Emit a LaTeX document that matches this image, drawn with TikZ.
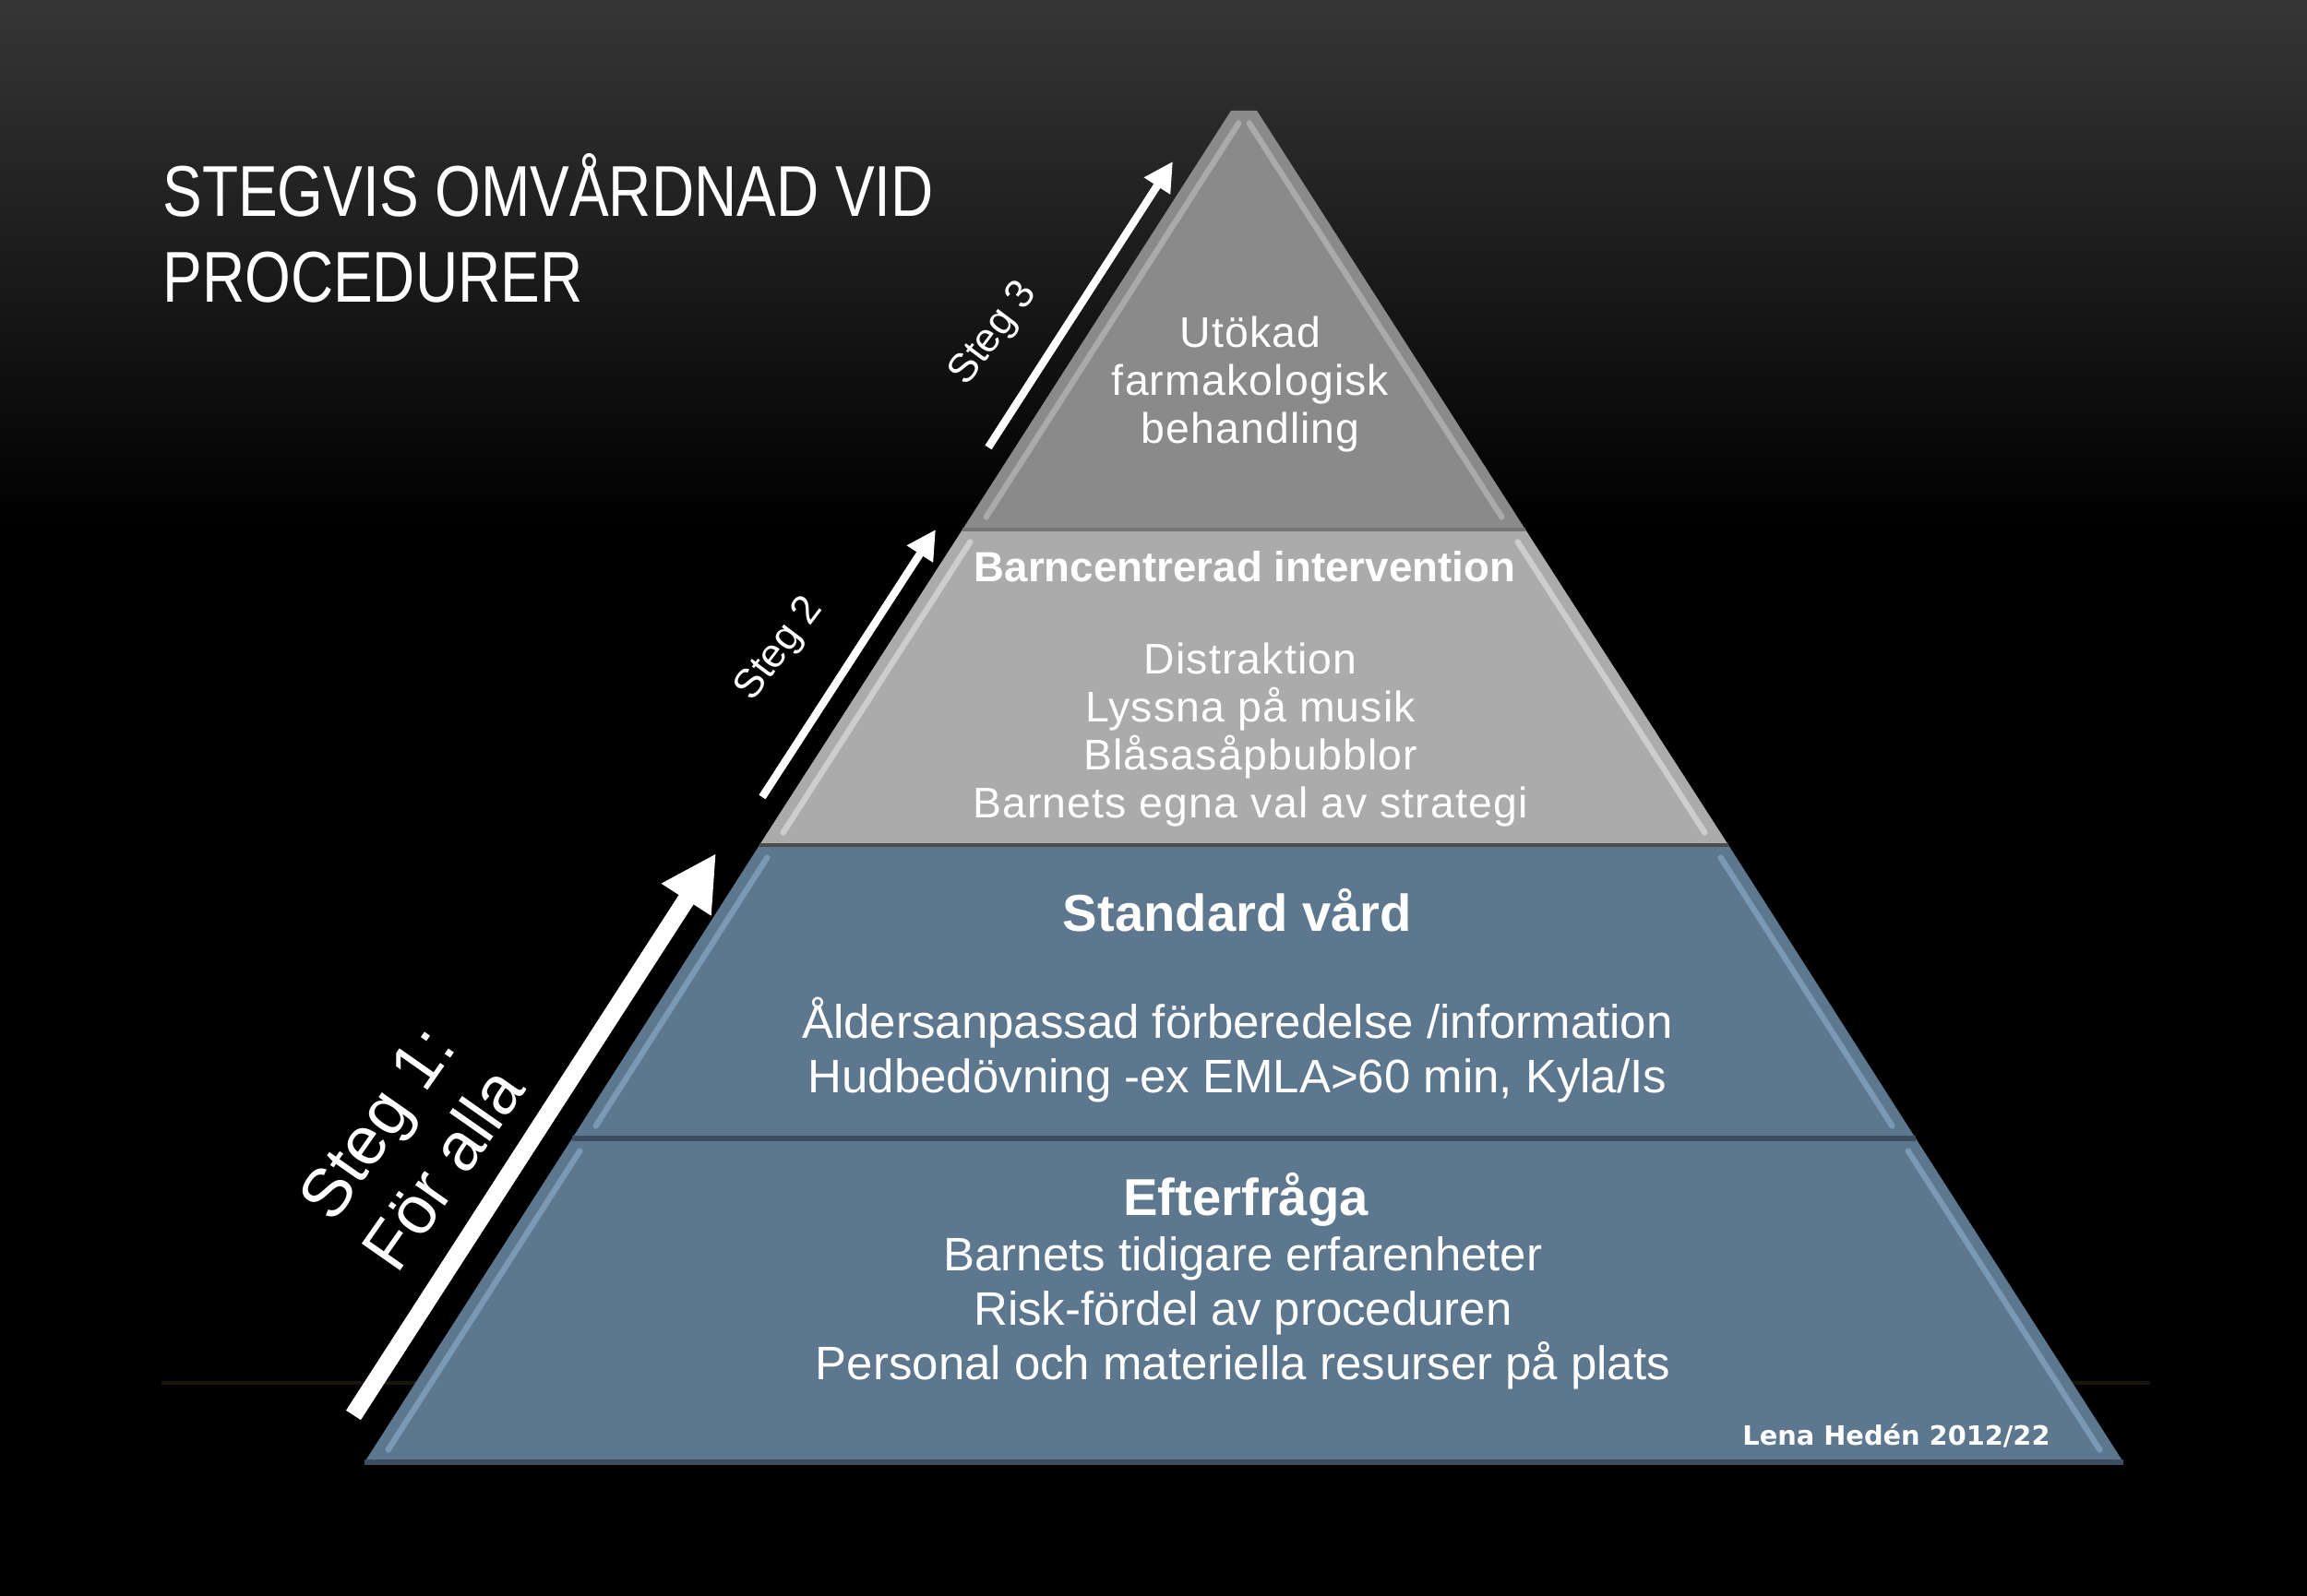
\documentclass[tikz,border=0pt]{standalone}
\usepackage{fontspec}
\setmainfont{Liberation Sans}
\newfontfamily\titlefont[FakeStretch=0.82]{Liberation Sans}
\newfontfamily\spacedfont[LetterSpace=2.5]{Liberation Sans}
\newfontfamily\signfont{DejaVu Sans}
\usetikzlibrary{arrows.meta}

\definecolor{bgtop}{RGB}{54,54,54}
\definecolor{floorline}{RGB}{24,21,15}
\definecolor{apexgray}{RGB}{138,138,138}
\definecolor{apexshine}{RGB}{170,170,170}
\definecolor{midgray}{RGB}{171,171,171}
\definecolor{midshine}{RGB}{205,205,205}
\definecolor{tierblue}{RGB}{92,119,142}
\definecolor{blueshine}{RGB}{122,153,180}
\definecolor{blueshade}{RGB}{60,78,96}

\tikzset{
  titletext/.style={text=white, anchor=base west, font=\titlefont\fontsize{22.2}{26}\selectfont},
  tierhead/.style={text=white, font=\bfseries\fontsize{16}{19}\selectfont},
  tiertext/.style={text=white, align=center, font=\fontsize{14.5}{16.8}\selectfont},
  graytext/.style={text=white, align=center, font=\spacedfont\fontsize{13.2}{14.8}\selectfont},
  steglabel/.style={text=white, font=\fontsize{12.5}{14}\selectfont},
  stegarrow/.style={draw=white, line width=2.4pt, -{Triangle[width=9pt,length=9pt]}},
  shine/.style={line width=1.8pt, line cap=round, shorten <=0.16cm, shorten >=0.16cm},
}

\begin{document}
\begin{tikzpicture}

% background
\fill[black] (0,0) rectangle (25,17.3);
\shade[top color=bgtop, bottom color=black] (0,11.6) rectangle (25,17.3);
\useasboundingbox (0,0) rectangle (25,17.3);
\draw[floorline, line width=1pt] (1.75,2.31) -- (23.3,2.31);

% tier corners
\coordinate (t1a) at (13.34,16.10);
\coordinate (t1b) at (13.62,16.10);
\coordinate (t1c) at (16.53,11.56);
\coordinate (t1d) at (10.43,11.56);

\coordinate (t2a) at (10.43,11.56);
\coordinate (t2b) at (16.53,11.56);
\coordinate (t2c) at (18.73,8.14);
\coordinate (t2d) at (8.23,8.14);

\coordinate (t3a) at (8.23,8.14);
\coordinate (t3b) at (18.73,8.14);
\coordinate (t3c) at (20.76,4.96);
\coordinate (t3d) at (6.20,4.96);

\coordinate (t4a) at (6.20,4.96);
\coordinate (t4b) at (20.76,4.96);
\coordinate (t4c) at (23.01,1.45);
\coordinate (t4d) at (3.95,1.45);

% top tier
\fill[apexgray] (t1a) -- (t1b) -- (t1c) -- (t1d) -- cycle;
\draw[shine, apexshine] ([xshift=0.17cm]t1a) -- ([xshift=0.17cm]t1d);
\draw[shine, apexshine] ([xshift=-0.17cm]t1b) -- ([xshift=-0.17cm]t1c);

% middle tier
\fill[midgray] (t2a) -- (t2b) -- (t2c) -- (t2d) -- cycle;
\draw[shine, midshine] ([xshift=0.17cm]t2a) -- ([xshift=0.17cm]t2d);
\draw[shine, midshine] ([xshift=-0.17cm]t2b) -- ([xshift=-0.17cm]t2c);
\draw[apexgray!85!black, line width=1.2pt] (t2a) -- (t2b);

% blue tiers
\fill[tierblue] (t3a) -- (t3b) -- (t3c) -- (t3d) -- cycle;
\draw[shine, blueshine] ([xshift=0.17cm]t3a) -- ([xshift=0.17cm]t3d);
\draw[shine, blueshine] ([xshift=-0.17cm]t3b) -- ([xshift=-0.17cm]t3c);
\draw[black!70, line width=1.4pt] (t3a) -- (t3b);

\fill[tierblue] (t4a) -- (t4b) -- (t4c) -- (t4d) -- cycle;
\draw[shine, blueshine] ([xshift=0.17cm]t4a) -- ([xshift=0.17cm]t4d);
\draw[shine, blueshine] ([xshift=-0.17cm]t4b) -- ([xshift=-0.17cm]t4c);
\draw[blueshade, line width=1.6pt] (t4a) -- (t4b);
\draw[blueshade, line width=1.6pt] (t4d) -- (t4c);

% title
\node[titletext] (title1) at (1.64,14.95) {STEGVIS OMVÅRDNAD VID};
\node[titletext] (title2) at (1.64,14.02) {PROCEDURER};

% tier texts
\node[graytext] (top) at (13.55,13.13) {Utökad\\farmakologisk\\behandling};

\node[text=white, font=\bfseries\fontsize{13}{15}\selectfont] (midhead) at (13.49,11.16) {Barncentrerad intervention};
\node[graytext] (mid) at (13.55,9.33) {Distraktion\\Lyssna på musik\\Blåsasåpbubblor\\Barnets egna val av strategi};

\node[tierhead] (stdhead) at (13.41,7.43) {Standard vård};
\node[tiertext] (std) at (13.41,5.92) {Åldersanpassad förberedelse /information\\Hudbedövning -ex EMLA>60 min, Kyla/Is};

\node[tierhead] (basehead) at (13.50,4.30) {Efterfråga};
\node[tiertext] (base) at (13.47,3.07) {Barnets tidigare erfarenheter\\Risk-fördel av proceduren\\Personal och materiella resurser på plats};

\node[text=white, font=\signfont\bfseries\fontsize{8.2}{10}\selectfont] (sign) at (20.55,1.74) {Lena Hedén 2012/22};

% arrows
\coordinate (s1start) at (3.83,1.96);
\coordinate (s1end) at (7.76,8.05);
\coordinate (s2start) at (8.26,8.66);
\coordinate (s2end) at (10.14,11.56);
\coordinate (s3start) at (10.71,12.45);
\coordinate (s3end) at (12.71,15.55);

\draw[stegarrow, line width=5.4pt, -{Triangle[width=17pt,length=17pt]}] (s1start) -- (s1end);
\draw[stegarrow] (s2start) -- (s2end);
\draw[stegarrow] (s3start) -- (s3end);

\node[steglabel, rotate=53] (steg3) at (10.77,13.68) {Steg 3};
\node[steglabel, rotate=53] (steg2) at (8.45,10.26) {Steg 2};
\node[text=white, align=center, rotate=55, font=\fontsize{21}{25}\selectfont] (steg1) at (4.44,4.88) {Steg 1:\\För alla};

\end{tikzpicture}
\end{document}
